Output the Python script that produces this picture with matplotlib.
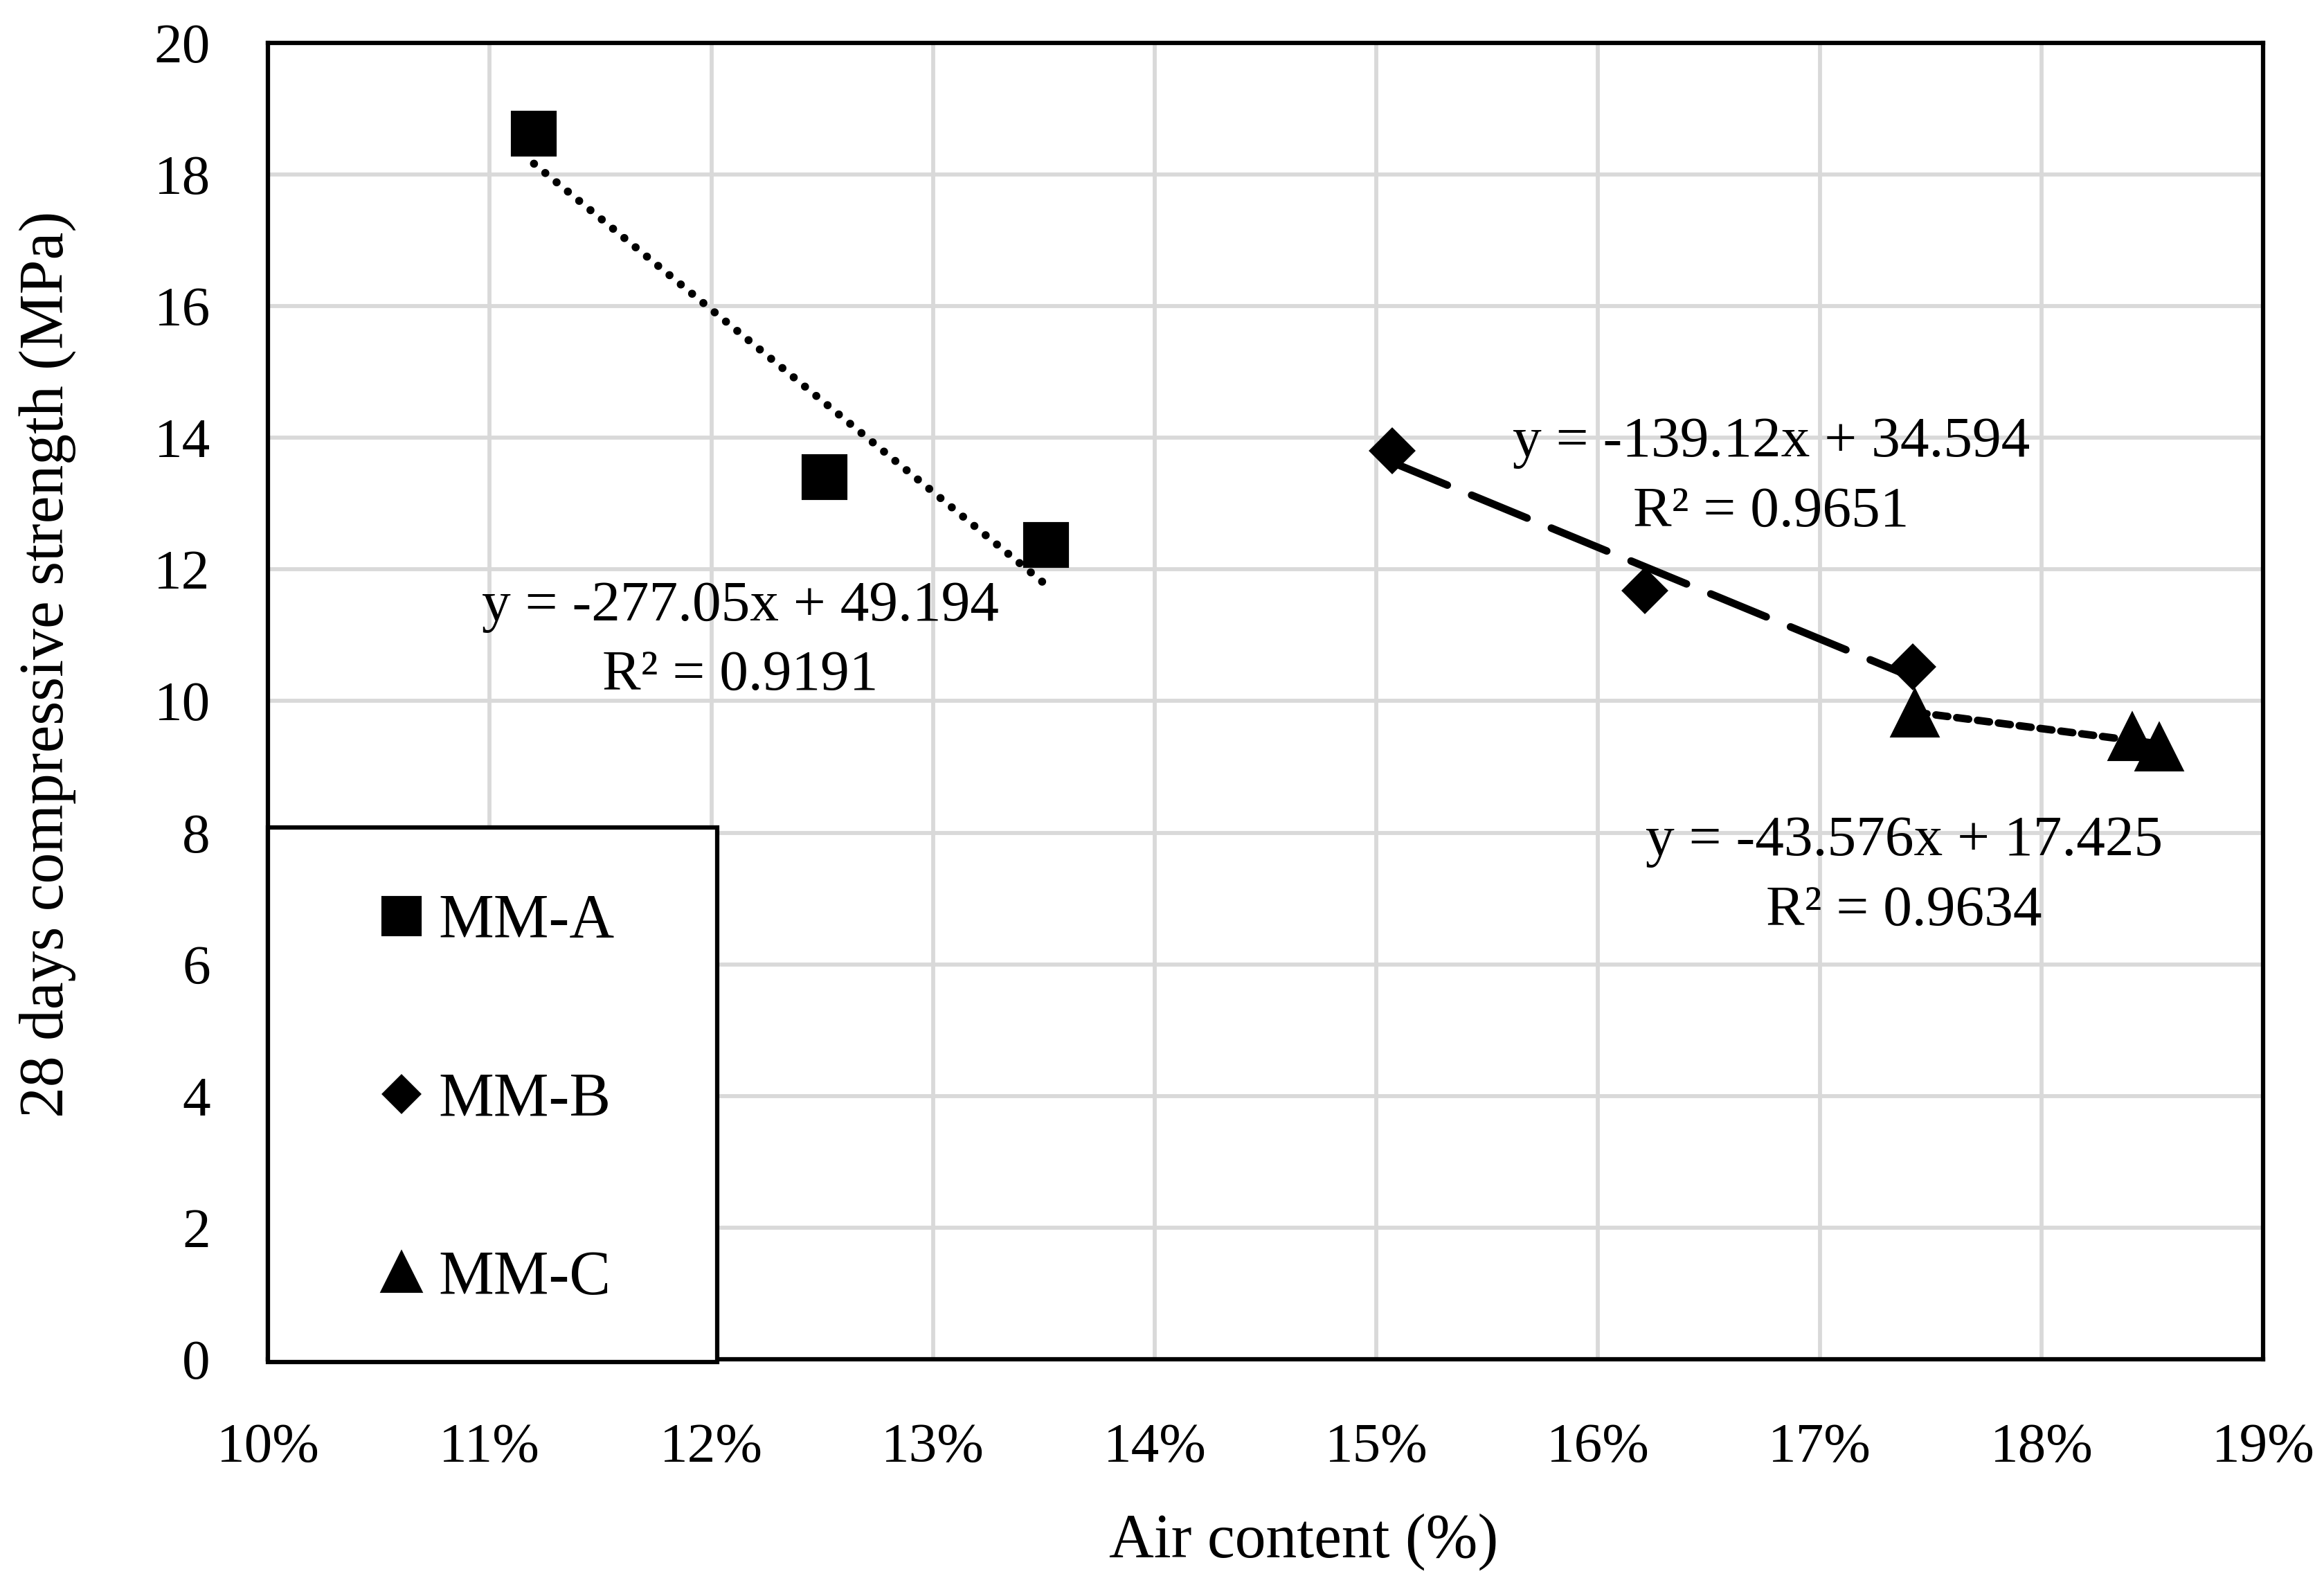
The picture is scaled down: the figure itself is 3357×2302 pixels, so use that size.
import numpy as np
import matplotlib
matplotlib.use('Agg')
import matplotlib.pyplot as plt
from matplotlib.patches import Rectangle
from matplotlib.ticker import FuncFormatter

plt.rcParams['font.family'] = ['Liberation Serif', 'DejaVu Serif']

# air content (fraction) and 28-day compressive strength (MPa)
mm_a_x = [0.1120, 0.1251, 0.1351]
mm_a_y = [18.62, 13.40, 12.37]
mm_b_x = [0.1507, 0.1621, 0.1742]
mm_b_y = [13.80, 11.68, 10.52]
mm_c_x = [0.1743, 0.1841, 0.1853]
mm_c_y = [9.82, 9.46, 9.30]

# trendline coefficients shown on the chart (slope, intercept, R2)
fit_a = (-277.05, 49.194, 0.9191)
fit_b = (-139.12, 34.594, 0.9651)
fit_c = (-43.576, 17.425, 0.9634)

fig = plt.figure(figsize=(3357 / 300, 2302 / 300), dpi=300)
ax = fig.add_axes([0.1153, 0.1473, 0.8585, 0.8258])

fs_tick = 19.5
fs_eq = 20
fs_lab = 21.5


def trend(xs, fit, **kw):
    # linear trendline over the range of the series
    xx = np.array([min(xs), max(xs)])
    ax.plot(xx, fit[0] * xx + fit[1], color='black', zorder=2, **kw)


trend(mm_a_x, fit_a, lw=2.8, linestyle=(0, (0.01, 1.8)), dash_capstyle='round')
trend(mm_b_x, fit_b, lw=2.6, linestyle=(0, (8, 3.5)), dash_capstyle='round')
trend(mm_c_x, fit_c, lw=2.6, linestyle=(0, (1.6, 1.2)), dash_capstyle='round')

ax.plot(mm_a_x, mm_a_y, 's', color='black', ms=15, label='MM-A', zorder=3)
ax.plot(mm_b_x, mm_b_y, 'D', color='black', ms=10.5, label='MM-B', zorder=3)
ax.plot(mm_c_x, mm_c_y, '^', color='black', ms=16, label='MM-C', zorder=3)


def eq_label(x, y, fit, fmt):
    txt = ('y = ' + fmt + 'x + ' + '%.3f' + '\nR² = %.4f') % fit
    ax.text(x, y, txt, ha='center', va='center', fontsize=fs_eq, linespacing=1.45, zorder=4)


eq_label(0.1213, 10.9, fit_a, '%.2f')
eq_label(0.1678, 13.39, fit_b, '%.2f')
eq_label(0.1738, 7.33, fit_c, '%.3f')

ax.set_xlim(0.10, 0.19)
ax.set_ylim(0, 20)
ax.set_xticks(np.arange(0.10, 0.1901, 0.01))
ax.set_yticks(np.arange(0, 21, 2))
ax.xaxis.set_major_formatter(FuncFormatter(lambda v, p: '%d%%' % round(v * 100)))
ax.tick_params(length=0, labelsize=fs_tick)
ax.tick_params(axis='x', pad=22)
ax.tick_params(axis='y', pad=20)
ax.grid(True, color='#d9d9d9', lw=1.4)
ax.set_axisbelow(True)
for s in ax.spines.values():
    s.set_linewidth(1.5)

ax.set_xlabel('Air content (%)', fontsize=fs_lab, labelpad=11)
ax.set_ylabel('28 days compressive strength (MPa)', fontsize=fs_lab, labelpad=27)
ax.xaxis.set_label_coords(0.519, -0.117)
ax.yaxis.label.set_y(0.528)

# legend box
ax.add_patch(Rectangle((0, -0.002), 0.225, 0.406, transform=ax.transAxes, fill=True,
                       facecolor='white', edgecolor='black', lw=1.5, zorder=5, clip_on=False))
leg = ax.legend(loc='center', bbox_to_anchor=(0.1125, 0.1965), frameon=False, fontsize=fs_lab,
                labelspacing=1.95, handlelength=1.0, handletextpad=0.1, markerscale=0.85)
leg.set_zorder(6)

fig.savefig('out.png', dpi=300)
